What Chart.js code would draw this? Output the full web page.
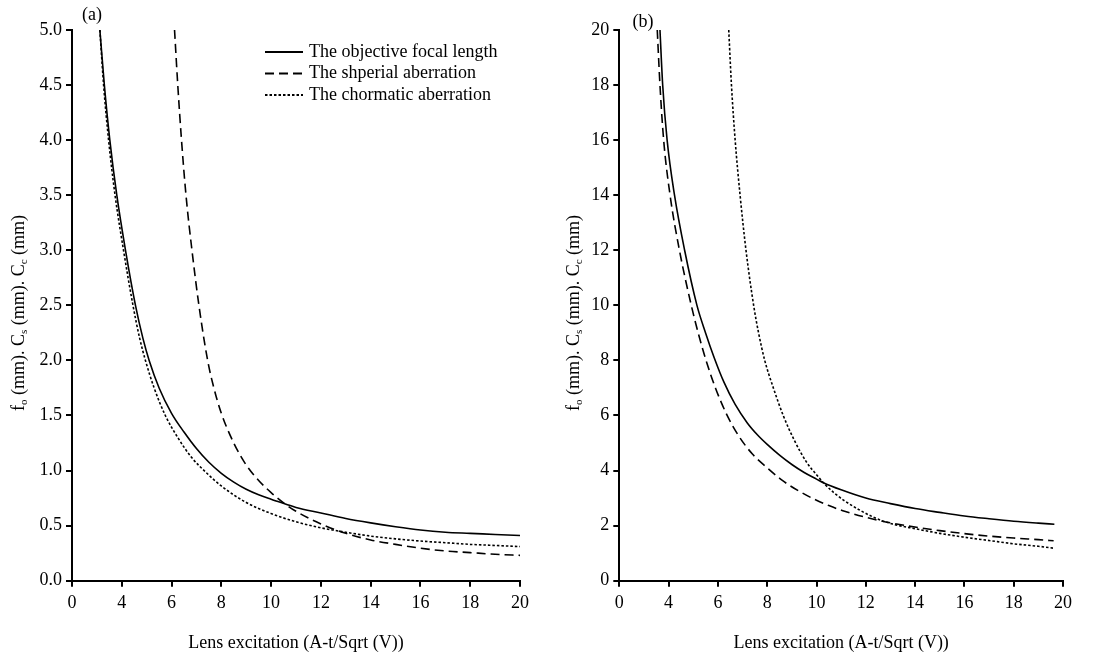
<!DOCTYPE html>
<html>
<head>
<meta charset="utf-8">
<script src="https://cdn.jsdelivr.net/npm/chart.js@4.4.0/dist/chart.umd.min.js"></script>
<style>
html, body { margin: 0; padding: 0; background: #fff; }
#wrap { position: relative; width: 1118px; height: 658px; }
canvas { position: absolute; top: 0; }
#chart-a { left: 0; }
#chart-b { left: 560px; }
</style>
</head>
<body>
<div id="wrap">
  <canvas id="chart-a" width="560" height="658"></canvas>
  <canvas id="chart-b" width="558" height="658"></canvas>
</div>
<script>
// x axis is broken: first tick (position 2) is labelled 0, then 4..20
const xTickText = ['0', '4', '6', '8', '10', '12', '14', '16', '18', '20'];
const seriesNames = ['The objective focal length', 'The shperial aberration', 'The chormatic aberration'];

// panel (a)
const focalA = [[3.12,5.0],[3.3,4.5],[3.52,4.0],[3.8,3.5],[4.15,3.0],[4.55,2.5],[4.85,2.2],[5.1,2.0],[5.5,1.75],[6.0,1.52],[6.5,1.35],[7.0,1.2],[7.5,1.075],[8.0,0.975],[8.5,0.895],[9.0,0.83],[9.5,0.78],[10.0,0.74],[10.6,0.695],[11.0,0.665],[12.0,0.615],[13.0,0.565],[14.0,0.525],[15.0,0.49],[16.0,0.46],[17.0,0.44],[18.0,0.43],[19.0,0.42],[20.0,0.41]];
const sphericalA = [[6.12,5.0],[6.25,4.5],[6.4,4.0],[6.58,3.5],[6.82,3.0],[7.1,2.5],[7.45,2.0],[7.7,1.75],[8.0,1.52],[8.5,1.25],[9.0,1.05],[9.5,0.91],[10.0,0.8],[10.6,0.69],[11.0,0.63],[12.0,0.515],[13.0,0.43],[14.0,0.37],[15.0,0.33],[16.0,0.295],[17.0,0.27],[18.0,0.255],[19.0,0.24],[20.0,0.23]];
const chromaticA = [[3.12,5.0],[3.27,4.5],[3.47,4.0],[3.73,3.5],[4.07,3.0],[4.45,2.5],[4.72,2.2],[4.95,2.0],[5.3,1.75],[5.75,1.5],[6.25,1.3],[6.8,1.12],[7.4,0.98],[8.0,0.86],[9.0,0.71],[10.0,0.61],[11.0,0.535],[12.0,0.48],[13.0,0.44],[14.0,0.405],[15.0,0.38],[16.0,0.36],[17.0,0.345],[18.0,0.33],[19.0,0.32],[20.0,0.31]];

// panel (b)
const focalB = [[3.65,20],[3.76,18],[3.94,16],[4.24,14],[4.65,12],[5.15,10],[5.5,9],[5.85,8.1],[6.25,7.2],[6.7,6.4],[7.2,5.72],[7.6,5.3],[8.0,4.95],[8.5,4.56],[9.0,4.22],[9.5,3.93],[10.0,3.69],[10.3,3.55],[11.0,3.3],[12.0,3.0],[13.0,2.8],[14.0,2.62],[15.0,2.48],[16.0,2.35],[17.0,2.25],[18.0,2.16],[19.0,2.09],[19.65,2.05]];
const sphericalB = [[3.54,20],[3.65,18],[3.8,16],[4.06,14],[4.44,12],[4.92,10],[5.2,9],[5.52,8],[5.9,7],[6.35,6.05],[6.85,5.25],[7.4,4.6],[8.0,4.1],[8.6,3.65],[9.24,3.28],[10.0,2.92],[10.5,2.73],[11.14,2.52],[12.28,2.24],[13.0,2.1],[14.05,1.94],[15.0,1.82],[16.0,1.71],[17.0,1.62],[18.0,1.55],[19.0,1.49],[19.62,1.45]];
const chromaticB = [[6.44,20],[6.55,18],[6.7,16],[6.9,14],[7.14,12],[7.45,10],[7.65,9],[7.9,8],[8.25,7],[8.65,6],[9.1,5.1],[9.6,4.3],[10.0,3.85],[10.32,3.52],[10.7,3.2],[11.14,2.9],[12.28,2.32],[13.0,2.08],[14.05,1.88],[15.0,1.72],[16.0,1.58],[17.0,1.46],[18.0,1.34],[19.0,1.25],[19.62,1.18]];

const xTitle = 'Lens excitation (A-t/Sqrt (V))';
const yTitleParts = [['f',0],['o',1],[' (mm). C',0],['s',1],[' (mm). C',0],['c',1],[' (mm)',0]];

const serif = '"Liberation Serif", "Times New Roman", serif';
Chart.defaults.font.family = serif;
Chart.defaults.font.size = 18;
Chart.defaults.color = '#000';

const dashes = [[], [9, 5], [2.5, 2]];

function makeDatasets(lists) {
    return lists.map((pts, i) => ({
        label: seriesNames[i],
        data: pts.map(p => ({ x: p[0], y: p[1] })),
        borderColor: '#000',
        borderWidth: 1.6,
        borderDash: dashes[i],
        pointRadius: 0,
        fill: false,
        cubicInterpolationMode: 'monotone'
    }));
}

// titles, panel letter and legend drawn on top
const decor = {
    id: 'decor',
    afterDraw(chart, args, opts) {
        const ctx = chart.ctx;
        const area = chart.chartArea;
        ctx.save();
        ctx.fillStyle = '#000';
        ctx.strokeStyle = '#000';
        ctx.font = '18px ' + serif;
        ctx.textAlign = 'center';
        ctx.textBaseline = 'middle';
        ctx.fillText(opts.panel, opts.panelX, opts.panelY);
        ctx.fillText(xTitle, (area.left + area.right) / 2, 643);

        // rotated y title with subscripts
        const mainFont = '18px ' + serif, subFont = '11px ' + serif;
        let total = 0;
        yTitleParts.forEach(p => {
            ctx.font = p[1] ? subFont : mainFont;
            total += ctx.measureText(p[0]).width;
        });
        ctx.translate(opts.yTitleX, 313);
        ctx.rotate(-Math.PI / 2);
        ctx.textAlign = 'left';
        ctx.textBaseline = 'alphabetic';
        let x = -total / 2;
        yTitleParts.forEach(p => {
            ctx.font = p[1] ? subFont : mainFont;
            ctx.fillText(p[0], x, p[1] ? 9 : 6);
            x += ctx.measureText(p[0]).width;
        });
        ctx.setTransform(1, 0, 0, 1, 0, 0);

        if (opts.legend) {
            ctx.font = mainFont;
            ctx.textBaseline = 'middle';
            chart.data.datasets.forEach((ds, i) => {
                const y = 52 + i * 21.5;
                ctx.lineWidth = 2;
                ctx.setLineDash(ds.borderDash);
                ctx.beginPath();
                ctx.moveTo(265, y);
                ctx.lineTo(303, y);
                ctx.stroke();
                ctx.setLineDash([]);
                ctx.fillText(ds.label, 309, y);
            });
        }
        ctx.restore();
    }
};

function makeChart(canvasId, lists, yMax, yStep, yDigits, yWidth, padRight, decorOpts) {
    return new Chart(document.getElementById(canvasId).getContext('2d'), {
        type: 'line',
        data: { datasets: makeDatasets(lists) },
        options: {
            responsive: false,
            animation: false,
            layout: { padding: { top: 30, right: padRight, left: 0, bottom: 0 } },
            plugins: { legend: { display: false }, tooltip: { enabled: false }, decor: decorOpts },
            scales: {
                x: {
                    type: 'linear',
                    min: 2, max: 20,
                    afterFit: s => { s.height = 77.3; },
                    ticks: {
                        stepSize: 2,
                        padding: 6,
                        maxRotation: 0,
                        callback: v => xTickText[Math.round((v - 2) / 2)]
                    },
                    grid: { drawOnChartArea: false, drawTicks: true, tickLength: 6, color: '#000', lineWidth: 2 },
                    border: { display: true, color: '#000', width: 2 }
                },
                y: {
                    type: 'linear',
                    min: 0, max: yMax,
                    afterFit: s => { s.width = yWidth; },
                    ticks: {
                        stepSize: yStep,
                        padding: 4,
                        callback: v => v.toFixed(yDigits)
                    },
                    grid: { drawOnChartArea: false, drawTicks: true, tickLength: 6, color: '#000', lineWidth: 2 },
                    border: { display: true, color: '#000', width: 2 }
                }
            }
        },
        plugins: [decor]
    });
}

makeChart('chart-a', [focalA, sphericalA, chromaticA], 5, 0.5, 1, 72, 40,
    { panel: '(a)', panelX: 92, panelY: 15, yTitleX: 18, legend: true });
makeChart('chart-b', [focalB, sphericalB, chromaticB], 20, 2, 0, 59.3, 55,
    { panel: '(b)', panelX: 83, panelY: 22, yTitleX: 13, legend: false });
</script>
</body>
</html>
